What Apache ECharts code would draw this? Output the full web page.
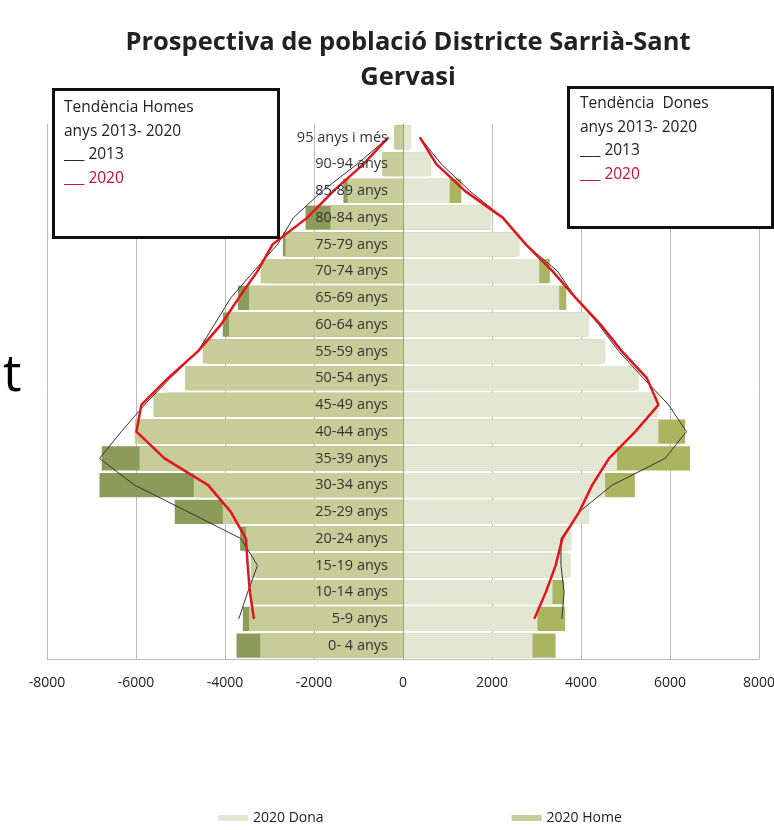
<!DOCTYPE html>
<html>
<head>
<meta charset="utf-8">
<script src="https://cdn.jsdelivr.net/npm/echarts@6/dist/echarts.min.js"></script>
<style>
  html, body { margin: 0; padding: 0; background: #fff; }
  #chart { width: 774px; height: 830px; }
</style>
</head>
<body>
<div id="chart"></div>
<script>
// age groups, bottom to top
const ages = ['0- 4 anys', '5-9 anys', '10-14 anys', '15-19 anys', '20-24 anys', '25-29 anys',
  '30-34 anys', '35-39 anys', '40-44 anys', '45-49 anys', '50-54 anys', '55-59 anys',
  '60-64 anys', '65-69 anys', '70-74 anys', '75-79 anys', '80-84 anys', '85-89 anys',
  '90-94 anys', '95 anys i més']

const home2013 = [-3740, -3600, -3300, -3300, -3660, -5130, -6820, -6770, -5900, -5300,
  -4800, -4400, -4050, -3710, -3100, -2700, -2190, -1340, -420, -150]
const home2020 = [-3210, -3460, -3420, -3420, -3530, -4050, -4700, -5920, -6030, -5610,
  -4900, -4500, -3910, -3460, -3200, -2640, -1630, -1250, -470, -200]
const dona2013 = [3430, 3640, 3620, 3700, 3700, 4100, 5210, 6450, 6340, 5600,
  5200, 4450, 4100, 3670, 3300, 2550, 1950, 1310, 600, 150]
const dona2020 = [2910, 3020, 3360, 3770, 3790, 4190, 4540, 4810, 5740, 5740,
  5300, 4550, 4180, 3510, 3060, 2620, 1980, 1050, 640, 190]

// hand drawn trend lines
const tendHome2013 = ['-', -3690, -3490, -3270, -3640, -4830, -6030, -6820, -6330, -5810,
  -5230, -4610, -4240, -3870, -3350, -2820, -2460, -1810, -1030, -330]
const tendHome2020 = ['-', -3350, -3440, -3490, -3530, -3870, -4380, -5360, -5990, -5880,
  -5280, -4610, -4090, -3690, -3270, -2930, -2150, -1560, -890, -330]
const tendDona2013 = ['-', 3570, 3620, 3550, 3550, 3960, 4700, 5890, 6370, 5970,
  5400, 4850, 4400, 3880, 3470, 2760, 2240, 1500, 860, 380]
const tendDona2020 = ['-', 2950, 3210, 3430, 3580, 3960, 4250, 4630, 5220, 5740,
  5480, 4920, 4440, 3880, 3360, 2760, 2240, 1390, 750, 380]

const xTicks = { min: -8000, max: 8000, interval: 2000 }

const font = '"Open Sans", "Noto Sans", sans-serif'
const chart = echarts.init(document.getElementById('chart'))

function boxText(x, y, lines) {
  return lines.map((l, i) => ({
    type: 'text', left: x, top: y + i * 23.5, z: 21,
    style: { text: l.t, fill: l.c || '#222', fontSize: 15.5, fontFamily: font }
  }))
}

function barSeries(name, data, color) {
  return {
    name, type: 'bar', data, barGap: '-100%', barCategoryGap: '10%',
    itemStyle: { color }, z: 2
  }
}

function lineSeries(name, data, color, width) {
  return {
    name, type: 'line', data, symbol: 'none', z: 6,
    lineStyle: { color, width }
  }
}

chart.setOption({
  animation: false,
  textStyle: { fontFamily: font },
  title: {
    text: 'Prospectiva de població Districte Sarrià-Sant\nGervasi',
    left: 403, top: 20, textAlign: 'center',
    textStyle: { fontSize: 25.5, fontWeight: 'bold', color: '#222', lineHeight: 35, fontFamily: font }
  },
  legend: {
    data: ['2020 Dona', '2020 Home'],
    bottom: 0, left: 213, itemGap: 188, itemWidth: 30, itemHeight: 6,
    icon: 'rect',
    textStyle: { fontSize: 14, color: '#222' }
  },
  grid: { left: 47, right: 15, top: 124, bottom: 171, outerBoundsMode: 'none' },
  xAxis: {
    type: 'value', ...xTicks,
    axisLine: { show: true, onZero: false, lineStyle: { color: '#bbb' } },
    axisTick: { show: false },
    splitLine: { show: true, lineStyle: { color: '#bbb' } },
    axisLabel: { fontSize: 14, color: '#222', margin: 17, formatter: v => String(v) }
  },
  yAxis: {
    type: 'category', data: ages, z: 10, offset: -356,
    axisLine: { show: true, onZero: false, lineStyle: { color: '#999' } },
    axisTick: { show: false },
    axisLabel: { fontSize: 14.5, color: '#333', margin: 15 }
  },
  series: [
    barSeries('2013 Home', home2013, '#8c9a5a'),
    barSeries('2013 Dona', dona2013, '#a9b55f'),
    barSeries('2020 Home', home2020, '#c6cd98'),
    barSeries('2020 Dona', dona2020, '#e4e6d4'),
    lineSeries('Tendència Homes 2013', tendHome2013, '#333', 1),
    lineSeries('Tendència Homes 2020', tendHome2020, '#e3141c', 2.5),
    lineSeries('Tendència Dones 2013', tendDona2013, '#333', 1),
    lineSeries('Tendència Dones 2020', tendDona2020, '#e3141c', 2.5)
  ],
  graphic: [
    { type: 'rect', left: 52, top: 88, z: 20, shape: { width: 225, height: 148 },
      style: { fill: '#fff', stroke: '#111', lineWidth: 3 } },
    { type: 'rect', left: 567, top: 86, z: 20, shape: { width: 204, height: 140 },
      style: { fill: '#fff', stroke: '#111', lineWidth: 3 } },
    ...boxText(64, 100, [
      { t: 'Tendència Homes' }, { t: 'anys 2013- 2020' },
      { t: '___ 2013' }, { t: '___ 2020', c: '#c8102e' }
    ]),
    ...boxText(580, 96, [
      { t: 'Tendència  Dones' }, { t: 'anys 2013- 2020' },
      { t: '___ 2013' }, { t: '___ 2020', c: '#c8102e' }
    ]),
    { type: 'text', left: 3, top: 350, z: 21,
      style: { text: 't', fill: '#000', fontSize: 52, fontFamily: font } }
  ]
})
</script>
</body>
</html>
